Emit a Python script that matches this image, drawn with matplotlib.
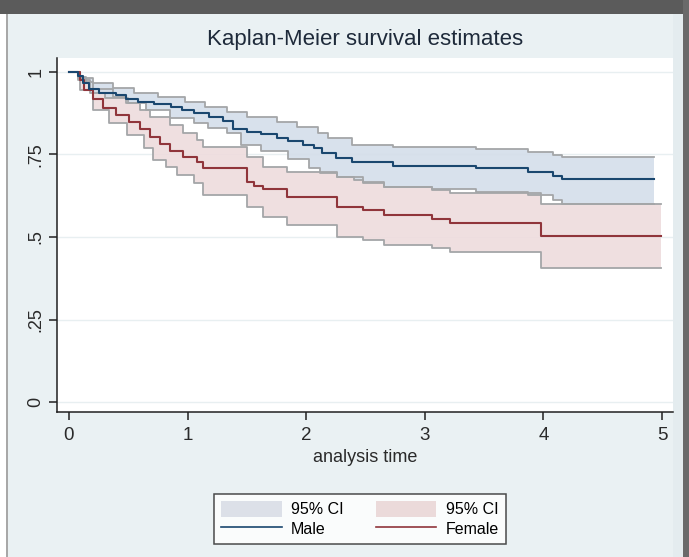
import numpy as np
import matplotlib
matplotlib.use("Agg")
import matplotlib.pyplot as plt
from matplotlib.patches import Rectangle, Patch
from matplotlib.lines import Line2D

plt.rcParams['font.family'] = ['Liberation Sans Narrow', 'Liberation Sans', 'DejaVu Sans']

# ---- data ----
male_t = [0, 0.08, 0.12, 0.17, 0.25, 0.40, 0.48, 0.58, 0.72, 0.86, 0.95, 1.05, 1.18, 1.30, 1.38,
          1.50, 1.62, 1.75, 1.85, 1.97, 2.07, 2.13, 2.25, 2.39, 2.73, 3.43, 3.87, 4.08, 4.16, 4.93]
male_s = [1.0, 0.986, 0.965, 0.948, 0.937, 0.930, 0.918, 0.910, 0.902, 0.895, 0.886, 0.876, 0.862,
          0.850, 0.828, 0.818, 0.812, 0.800, 0.792, 0.779, 0.770, 0.753, 0.740, 0.728, 0.715, 0.708,
          0.698, 0.685, 0.675, 0.675]
male_hi_t = [0, 0.08, 0.20, 0.37, 0.55, 0.75, 0.98, 1.15, 1.33, 1.50, 1.75, 1.92, 2.10, 2.18, 2.39,
             2.73, 3.43, 3.87, 4.08, 4.16, 4.93]
male_hi = [1.0, 0.98, 0.965, 0.95, 0.935, 0.925, 0.91, 0.895, 0.877, 0.862, 0.849, 0.834, 0.816,
           0.799, 0.779, 0.772, 0.766, 0.757, 0.748, 0.743, 0.743]
male_lo_t = [0, 0.08, 0.18, 0.30, 0.50, 0.65, 0.85, 1.05, 1.17, 1.33, 1.45, 1.62, 1.85, 2.02, 2.12,
             2.26, 2.40, 2.48, 2.66, 3.06, 3.43, 3.87, 4.08, 4.16, 4.93]
male_lo = [1.0, 0.976, 0.935, 0.922, 0.905, 0.885, 0.86, 0.845, 0.829, 0.814, 0.779, 0.759, 0.735,
           0.710, 0.695, 0.683, 0.673, 0.663, 0.652, 0.645, 0.637, 0.626, 0.612, 0.600, 0.600]

female_t = [0, 0.09, 0.13, 0.20, 0.29, 0.40, 0.51, 0.60, 0.68, 0.77, 0.85, 0.96, 1.08, 1.13, 1.50,
            1.56, 1.64, 1.84, 2.26, 2.48, 2.66, 3.06, 3.21, 3.98, 4.99]
female_s = [1.0, 0.976, 0.945, 0.917, 0.890, 0.870, 0.849, 0.826, 0.803, 0.781, 0.760, 0.743, 0.728,
            0.708, 0.668, 0.655, 0.644, 0.622, 0.592, 0.582, 0.567, 0.554, 0.541, 0.503, 0.503]
female_hi_t = [0, 0.09, 0.14, 0.20, 0.37, 0.48, 0.60, 0.68, 0.85, 0.96, 1.08, 1.13, 1.50, 1.64, 1.84,
               2.26, 2.48, 2.66, 3.06, 3.21, 3.98, 4.99]
female_hi = [1.0, 0.985, 0.968, 0.949, 0.925, 0.905, 0.885, 0.864, 0.839, 0.815, 0.795, 0.774, 0.743,
             0.713, 0.698, 0.683, 0.668, 0.652, 0.642, 0.632, 0.599, 0.599]
female_lo_t = [0, 0.09, 0.20, 0.34, 0.49, 0.63, 0.71, 0.82, 0.91, 1.05, 1.13, 1.50, 1.64, 1.84, 2.26,
               2.48, 2.66, 3.06, 3.21, 3.98, 4.99]
female_lo = [1.0, 0.945, 0.885, 0.845, 0.809, 0.769, 0.733, 0.713, 0.688, 0.662, 0.627, 0.592, 0.562,
             0.536, 0.501, 0.491, 0.476, 0.466, 0.455, 0.407, 0.407]

x_ticks = [0, 1, 2, 3, 4, 5]
y_ticks = [0, 0.25, 0.5, 0.75, 1]
y_ticklabels = ["0", ".25", ".5", ".75", "1"]
title = "Kaplan-Meier survival estimates"
xlabel = "analysis time"
labels = ["95% CI", "Male", "95% CI", "Female"]

# ---- style ----
BG = "#EAF1F3"
MALE = "#1A476F"
FEMALE = "#90353B"
MALE_FILL = "#D4DEEA"
FEMALE_FILL = "#EEDCDD"
EDGE = "#A4A6A8"


def step_on_grid(t, v, grid):
    t = np.asarray(t, float)
    v = np.asarray(v, float)
    idx = np.searchsorted(t, grid, side='right') - 1
    return v[np.clip(idx, 0, len(v) - 1)]


fig = plt.figure(figsize=(6.89, 5.57), dpi=100, facecolor=BG)

# window chrome
fig.patches.append(Rectangle((0, 1 - 14 / 557), 1, 14 / 557, transform=fig.transFigure,
                             facecolor="#5B5B5B", edgecolor="none", zorder=-1))
fig.patches.append(Rectangle((0, 0), 6 / 689, 1 - 14 / 557, transform=fig.transFigure,
                             facecolor="white", edgecolor="none", zorder=-1))
fig.patches.append(Rectangle((6 / 689, 0), 2 / 689, 1 - 14 / 557, transform=fig.transFigure,
                             facecolor="#A8A8A8", edgecolor="none", zorder=-1))
fig.patches.append(Rectangle((683 / 689, 0), 6 / 689, 1, transform=fig.transFigure,
                             facecolor="#6A6A6A", edgecolor="none", zorder=-1))
fig.patches.append(Rectangle((673 / 689, 0), 10 / 689, 1 - 14 / 557, transform=fig.transFigure,
                             facecolor="#E4ECEF", edgecolor="none", zorder=-1))

ax = fig.add_axes([57 / 689, 1 - 412 / 557, (673 - 57) / 689, (412 - 58) / 557])
ax.set_facecolor("white")
ax.set_xlim(-0.101, 5.093)
ax.set_ylim(-0.030, 1.042)

for s in ["top", "right"]:
    ax.spines[s].set_visible(False)
for s in ["left", "bottom"]:
    ax.spines[s].set_color("#202020")
    ax.spines[s].set_linewidth(1.1)

ax.set_yticks(y_ticks)
ax.set_yticklabels(y_ticklabels, rotation=90, va='center', fontsize=13, color="#2A2A2A")
ax.set_xticks(x_ticks)
ax.set_xticklabels([str(v) for v in x_ticks], fontsize=13.5, color="#2A2A2A")
ax.tick_params(axis='both', direction='out', length=6, width=1.1, color="#202020")
ax.tick_params(axis='x', pad=5)
ax.tick_params(axis='y', pad=3)
ax.yaxis.grid(True, color="#E8EFF1", linewidth=1.0)
ax.set_axisbelow(True)

# bands
for (ht, hv, lt, lv, fill) in [
        (female_hi_t, female_hi, female_lo_t, female_lo, FEMALE_FILL),
        (male_hi_t, male_hi, male_lo_t, male_lo, MALE_FILL)]:
    grid = np.union1d(ht, lt)
    hi_g = step_on_grid(ht, hv, grid)
    lo_g = step_on_grid(lt, lv, grid)
    ax.fill_between(grid, lo_g, hi_g, step='post', facecolor=fill, edgecolor='none',
                    alpha=0.9, zorder=2)

for (ht, hv) in [(female_hi_t, female_hi), (female_lo_t, female_lo),
                 (male_hi_t, male_hi), (male_lo_t, male_lo)]:
    ax.step(ht, hv, where='post', color=EDGE, linewidth=1.3, zorder=3)

ax.step(female_t, female_s, where='post', color=FEMALE, linewidth=1.5, zorder=4)
ax.step(male_t, male_s, where='post', color=MALE, linewidth=1.5, zorder=4)

fig.text(365 / 689, 1 - 40 / 557, title, ha='center', va='center', fontsize=16, color="#1E2A3A")
fig.text(365 / 689, 1 - 457 / 557, xlabel, ha='center', va='center', fontsize=13, color="#2A2A2A")

handles = [Patch(facecolor="#DCE0E8", edgecolor='none'),
           Line2D([], [], color=MALE, linewidth=1.2),
           Patch(facecolor="#EBDADA", edgecolor='none'),
           Line2D([], [], color=FEMALE, linewidth=1.2)]
leg = fig.legend(handles, labels, ncol=2, loc='center', bbox_to_anchor=(360 / 689, 1 - 519 / 557),
                 fontsize=11.5, frameon=True, fancybox=False, edgecolor="#202020",
                 handlelength=3.8, handleheight=1.2, columnspacing=2.0, handletextpad=0.6,
                 labelspacing=0.2, borderpad=0.45)
leg.get_frame().set_linewidth(1.1)
leg.get_frame().set_facecolor("white")

fig.savefig("out.png", dpi=100, facecolor=fig.get_facecolor())
